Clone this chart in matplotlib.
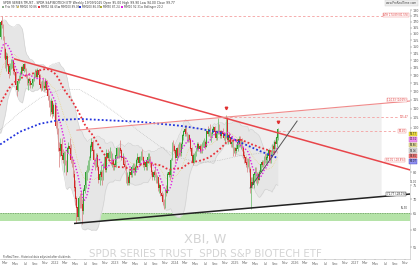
import matplotlib
matplotlib.use("Agg")
import matplotlib.pyplot as plt
import matplotlib.dates as mdates
import numpy as np
import pandas as pd

# ---------------- data (weekly, XBI) ----------------
warmup_closes = [98, 97, 96, 88,
                 88, 78, 72, 78, 80,
                 88, 97, 100, 98,
                 100, 103, 103, 105,
                 106, 108, 110, 110, 112,
                 115, 117, 116, 113,
                 113, 113, 115, 117, 112,
                 110, 111, 106, 112,
                 114, 118, 113, 110,
                 118, 122, 126, 128, 130,
                 132, 135, 140, 141,
                 145, 150, 153, 152]

opens = [
    157, 170, 166, 156,
    148, 141, 143, 137, 132,
    137, 138, 139, 134,
    132, 123, 121, 126, 129,
    131, 135, 133, 137,
    134, 130, 125, 127,
    126, 124, 125, 127, 131,
    132, 129, 133, 130,
    124, 122, 126, 123,
    122, 126, 121, 117, 112,
    108, 114, 107, 112,
    # 2022
    112, 101, 99, 90, 89,
    92, 87, 85, 88,
    84, 80, 90, 91,
    90, 85, 83, 79,
    74, 70, 67, 64, 70,
    69, 68, 66, 73,
    75, 80, 81, 83,
    86, 91, 93, 89, 85,
    83, 87, 82, 77,
    79, 80, 78, 83, 86,
    81, 88, 86, 88,
    88, 84, 85, 83,
    # 2023
    83, 87, 90, 87, 90,
    89, 86, 86, 83,
    82, 77, 78, 76,
    80, 79, 82, 83,
    80, 82, 85, 86, 84,
    86, 88, 86, 83,
    84, 82, 85, 86, 87,
    83, 80, 78, 80,
    79, 77, 78, 74,
    75, 72, 71, 69, 67,
    73, 72, 79, 80,
    79, 85, 92, 91,
    # 2024
    89, 86, 90, 87, 92,
    88, 92, 96, 98,
    99, 97, 94, 96,
    94, 90, 87, 84, 87,
    88, 90, 92, 90,
    91, 89, 92, 93,
    93, 91, 98, 97, 99,
    96, 97, 99, 100,
    98, 95, 98, 101, 98,
    96, 98, 97, 95,
    96, 104, 94, 96,
    95, 92, 93, 89, 90,
    # 2025
    89, 90, 93, 94,
    92, 93, 90, 87,
    86, 84, 83, 85, 81,
    74, 76, 75, 79,
    80, 77, 79, 77,
    80, 83, 84, 83, 86,
    85, 86, 87, 89,
    85, 88, 91, 90,
    93, 92, 95]

highs = [
    171, 174.8, 168, 158,
    150, 146, 145, 138, 138,
    141, 141, 140, 137,
    133, 125, 127, 130, 133,
    136, 137, 138, 138,
    135, 131, 128, 129,
    128, 127, 128, 132, 134,
    134, 135, 134, 131,
    126, 127, 128, 126,
    128, 127, 122, 118, 115,
    116, 115, 113, 114,
    # 2022
    112, 104, 100, 93, 95,
    95, 90, 89, 89,
    85, 91, 93, 95,
    92, 87, 85, 81,
    77, 71, 69, 71, 72,
    73, 70, 74, 77,
    81, 83, 85, 87,
    92, 95, 94, 90, 86,
    88, 88, 83, 81,
    83, 81, 84, 87, 87,
    90, 90, 89, 91,
    89, 88, 86, 84,
    # 2023
    88, 91, 91, 91, 94,
    90, 88, 87, 85,
    83, 80, 79, 81,
    81, 83, 84, 84,
    83, 86, 88, 87, 87,
    89, 90, 87, 85,
    85, 86, 88, 88, 87,
    84, 81, 81, 82,
    80, 79, 78, 76,
    75, 73, 72, 70, 74,
    75, 80, 81, 81,
    86, 93, 94, 92,
    # 2024
    90, 91, 92, 93, 93,
    93, 97, 99, 101,
    101.5, 98, 97, 97,
    95, 91, 88, 88, 89,
    91, 93, 93, 92,
    92, 93, 94, 95,
    94, 99, 101, 100, 102,
    98, 100, 101, 101,
    99, 99, 105, 102, 99,
    99, 100, 98, 97,
    106.5, 105, 97, 98,
    96, 94, 94, 91, 91,
    # 2025
    92, 94, 96, 96,
    94, 95, 91, 89,
    87, 86, 86, 86, 82,
    78, 78, 80, 82,
    82, 80, 80, 81,
    84, 85, 85, 87, 88,
    88, 88, 90, 89,
    89, 92, 92, 94,
    94, 96, 99.9]

lows = [
    156, 165, 155, 142,
    135, 133, 136, 128, 130,
    134, 135, 131, 130,
    122, 117, 120, 125, 127,
    130, 131, 132, 133,
    128, 124, 121, 124,
    122, 122, 123, 126, 129,
    128, 128, 127, 122,
    120, 121, 122, 120,
    121, 120, 115, 111, 106,
    107, 105, 106, 109,
    # 2022
    100, 97, 89, 82, 87,
    86, 84, 80, 83,
    79, 80, 88, 89,
    84, 82, 78, 73,
    68, 62, 63, 63, 67,
    67, 61.7, 65, 72,
    74, 77, 80, 81,
    85, 89, 88, 83, 81,
    82, 81, 76, 75,
    77, 75, 77, 82, 80,
    80, 85, 85, 86,
    83, 82, 81, 81,
    # 2023
    82, 86, 86, 86, 88,
    85, 84, 82, 81,
    76, 75, 75, 75,
    78, 78, 81, 79,
    79, 81, 84, 83, 83,
    85, 85, 82, 81,
    81, 81, 84, 84, 82,
    79, 77, 77, 78,
    76, 76, 73, 72,
    71, 70, 68, 66.7, 67,
    71, 72, 78, 77,
    78, 85, 89, 88,
    # 2024
    84, 85, 86, 87, 87,
    87, 91, 94, 96,
    96, 93, 93, 93,
    89, 86, 83, 84, 85,
    87, 89, 89, 88,
    88, 88, 91, 91,
    90, 91, 96, 96, 95,
    93, 96, 98, 97,
    94, 94, 97, 97, 95,
    95, 96, 94, 93,
    95, 93, 92, 94,
    91, 91, 87, 88, 87,
    # 2025
    88, 89, 91, 91,
    90, 89, 86, 84,
    82, 80, 82, 80, 72,
    66.7, 74, 74, 77,
    76, 75, 76, 77,
    80, 82, 82, 83, 84,
    84, 84, 86, 84,
    84, 87, 88, 89,
    90, 91, 94]

closes = [
    169, 167, 157, 147,
    140, 143, 137, 131, 136,
    138, 139, 133, 132,
    124, 121, 126, 129, 131,
    135, 133, 137, 134,
    130, 125, 127, 126,
    124, 125, 127, 131, 132,
    129, 133, 130, 124,
    122, 126, 123, 122,
    126, 121, 117, 112, 108,
    114, 107, 112, 112,
    # 2022
    101, 99, 90, 89, 92,
    87, 85, 88, 84,
    80, 90, 91, 90,
    85, 83, 79, 74,
    70, 67, 64, 70, 69,
    68, 66, 73, 75,
    80, 81, 83, 86,
    91, 93, 89, 85, 83,
    87, 82, 77, 79,
    80, 78, 83, 86, 81,
    88, 86, 88, 88,
    84, 85, 83, 83,
    # 2023
    87, 90, 87, 90, 89,
    86, 86, 83, 82,
    77, 78, 76, 80,
    79, 82, 83, 80,
    82, 85, 86, 84, 86,
    88, 86, 83, 84,
    82, 85, 86, 87, 83,
    80, 78, 80, 79,
    77, 78, 74, 75,
    72, 71, 69, 67, 73,
    72, 79, 80, 79,
    85, 92, 91, 89,
    # 2024
    86, 90, 87, 92, 88,
    92, 96, 98, 99,
    97, 94, 96, 94,
    90, 87, 84, 87, 88,
    90, 92, 90, 91,
    89, 92, 93, 93,
    91, 98, 97, 99, 96,
    97, 99, 100, 98,
    95, 98, 101, 98, 96,
    98, 97, 95, 96,
    104, 94, 96, 95,
    92, 93, 89, 90, 89,
    # 2025
    90, 93, 94, 92,
    93, 90, 87, 86,
    84, 83, 85, 81, 74,
    76, 75, 79, 80,
    77, 79, 77, 80,
    83, 84, 83, 86, 85,
    86, 87, 89, 85,
    88, 91, 90, 93,
    92, 95, 99]

# long moving averages (100 w grey, 200 w blue)
ma100_dates = ["2021-02-01", "2021-06-01", "2021-10-01", "2022-02-01", "2022-06-01",
               "2022-10-01", "2023-02-01", "2023-06-01", "2023-10-01", "2024-02-01",
               "2024-06-01", "2024-10-01", "2025-02-01", "2025-06-01", "2025-09-15"]
ma100_vals = [99, 108, 116, 121, 121, 114, 106, 98, 91, 86, 84, 85, 87, 88, 89]
ma200_dates = ["2021-02-01", "2021-06-01", "2021-10-01", "2022-02-01", "2022-06-01",
               "2022-10-01", "2023-02-01", "2023-06-01", "2023-10-01", "2024-02-01",
               "2024-06-01", "2024-10-01", "2025-02-01", "2025-06-01", "2025-09-15"]
ma200_vals = [92, 98, 102, 104, 104.5, 104, 103.5, 103, 102, 101, 99.5, 97.5, 93, 89, 86]

# drawn objects (dates, prices)
red_trend_dates = ["2021-04-30", "2027-12-01"]
red_trend_prices = [141, 81]
pink_trend_dates = ["2022-05-14", "2027-12-01"]
pink_trend_prices = [98.8, 114.3]
black_trend_dates = ["2022-05-01", "2027-12-01"]
black_trend_prices = [62.0, 71.8]
grey_trend_dates = ["2025-04-02", "2026-01-13"]
grey_trend_prices = [74.0, 103.4]
zone_dates = ["2022-05-14", "2027-06-08"]
ath_price = 174.8
peak_price = 105.5
last_high_price = 98.4
green_zone = (62.7, 65.4)

yticks = list(range(55, 185, 5))
hidden_tick_labels = [85, 90, 95]   # covered by the value boxes

# ---------------- figure ----------------
W, H = 420, 265
fig = plt.figure(figsize=(W / 100, H / 100), dpi=100)
fig.patch.set_facecolor("white")
ax = fig.add_axes([0, 6 / H, 410 / W, 249 / H])
ax.set_facecolor("white")

n_warm = len(warmup_closes)
all_dates = pd.date_range("2020-02-03", periods=n_warm + len(closes), freq="W-MON")
vis_dates = all_dates[n_warm:]
xall = mdates.date2num(all_dates) + 2.5
xv = mdates.date2num(vis_dates) + 2.5

o = np.array(opens, float); h = np.array(highs, float)
l = np.array(lows, float); c = np.array(closes, float)
allc = pd.Series(np.concatenate([warmup_closes, closes]).astype(float))
ma10 = allc.rolling(10).mean().values
ma20 = allc.rolling(20).mean().values
sd20 = allc.rolling(20).std(ddof=0).values
ma52 = allc.rolling(52).mean().values
up20 = ma20 + 2 * sd20
lo20 = ma20 - 2 * sd20

d2n = lambda ds: mdates.date2num(pd.to_datetime(ds))
x0, x1 = d2n(["2021-01-31", "2027-12-01"])

# green support zone
ax.axhspan(green_zone[0], green_zone[1], color="#b5e3a8", zorder=0.5, lw=0)
ax.axhline(green_zone[1], color="#6a9a60", lw=0.5, ls=(0, (2, 1.5)), zorder=0.6)

# grey channel zone between pink and black lines
zx = d2n(zone_dates)
px = d2n(pink_trend_dates); bx = d2n(black_trend_dates)
def logline(xs, ps, xq):
    return np.exp(np.interp(xq, xs, np.log(ps), left=np.nan, right=np.nan))
zz = np.linspace(zx[0], zx[1], 50)
ax.fill_between(zz, logline(bx, black_trend_prices, zz), logline(px, pink_trend_prices, zz),
                color="#efefef", lw=0, zorder=0.4)

# Bollinger envelope
ax.fill_between(xall, lo20, up20, color="#e6e6e6", lw=0, zorder=0.8)
ax.plot(xall, up20, color="#cfcfcf", lw=0.4, zorder=0.9)
ax.plot(xall, lo20, color="#cfcfcf", lw=0.4, zorder=0.9)

# long MAs
ax.plot(d2n(ma100_dates), ma100_vals, color="#b8b8b8", lw=0.5, ls=(0, (1, 1.5)), zorder=1)
ax.plot(d2n(ma200_dates), ma200_vals, color="#2233dd", lw=1.3, ls=(0, (1, 1.2)), zorder=2.5)
ax.plot(xall, ma52, color="#e8303a", lw=1.3, ls=(0, (1, 1.2)), zorder=2.5)
ax.plot(xall, ma20, color="#e6d27a", lw=0.5, ls=(0, (1, 1.5)), zorder=1.1)

# candles
upm = c >= o
col = np.where(upm, "#2f9e2f", "#d42a2a")
ax.vlines(xv, l, h, colors=np.where(upm, "#62b862", "#d77a7a"), lw=0.5, zorder=2)
ax.bar(xv, np.abs(c - o) + 0.3, bottom=np.minimum(o, c), width=4.2, color=col, lw=0, zorder=2.1)

ax.plot(xall, ma10, color="#e020e0", lw=1.0, ls=(0, (1, 1.3)), zorder=2.6)

# trend lines
ax.plot(d2n(red_trend_dates), red_trend_prices, color="#e8454a", lw=1.1, zorder=3)
ax.plot(px, pink_trend_prices, color="#f08a8a", lw=0.8, zorder=3)
ax.plot(bx, black_trend_prices, color="#222222", lw=1.1, zorder=3)
ax.plot(d2n(grey_trend_dates), grey_trend_prices, color="#555555", lw=0.7, zorder=3)

# dashed horizontal levels
ax.hlines(ath_price, x0, d2n(["2027-07-02"])[0], color="#f4a0a0", lw=0.6, ls=(0, (3, 2.5)), zorder=1)
ax.hlines(peak_price, d2n(["2024-11-01"])[0], d2n(["2027-10-01"])[0], color="#f4a0a0", lw=0.6, ls=(0, (3, 2.5)), zorder=1)
ax.hlines(last_high_price, d2n(["2025-09-19"])[0], d2n(["2027-09-01"])[0], color="#f4a0a0", lw=0.6, ls=(0, (3, 2.5)), zorder=1)
ax.plot(d2n(["2024-11-06"]), [110.5], marker="v", ms=1.8, color="#e03030", zorder=4, lw=0)
ax.plot(d2n(["2025-09-17"]), [103.0], marker="v", ms=1.8, color="#e03030", zorder=4, lw=0)

# watermark
ax.text(0.5, 0.077, "XBI, W", transform=ax.transAxes, ha="center", va="center",
        fontsize=9.3, color="#d4d4d4", zorder=0.3)
ax.text(0.5, 0.022, "SPDR SERIES TRUST  SPDR S&P BIOTECH ETF", transform=ax.transAxes,
        ha="center", va="center", fontsize=7.4, color="#d4d4d4", zorder=0.3)

# axes formatting
ax.set_yscale("log")
ax.set_ylim(51.9, 180.1)
ax.set_xlim(x0, x1)
ax.yaxis.tick_right()
ax.set_yticks(yticks)
ax.set_yticklabels(["" if v in hidden_tick_labels else f"{v}" for v in yticks])
ax.yaxis.set_minor_locator(matplotlib.ticker.NullLocator())
ax.tick_params(axis="y", labelsize=2.4, colors="#555555", length=1.2, width=0.3, pad=0.8)
xt = pd.date_range("2021-03-01", "2027-11-01", freq="2MS")
ax.set_xticks(mdates.date2num(xt))
ax.set_xticklabels([str(d.year) if d.month == 1 else d.strftime("%b") for d in xt])
ax.tick_params(axis="x", labelsize=2.4, colors="#666666", length=1.0, width=0.3, pad=0.8)
for s in ["top", "left"]:
    ax.spines[s].set_visible(False)
for s in ["right", "bottom"]:
    ax.spines[s].set_color("#bbbbbb"); ax.spines[s].set_linewidth(0.4)

# header texts
fig.text(3 / W, 1 - 3 / H, "SPDR SERIES TRUST - SPDR S&P BIOTECH ETF Weekly 19/09/2025 Open 95.00 High 99.90 Low 94.00 Close 99.77",
         fontsize=2.2, color="#333333", va="center")
leg = [("Prix 99.77", "#8aa88a"), ("MM20 90.86", "#e6d27a"), ("MM52 84.65", "#e8303a"),
       ("MM100 89.06", "#999999"), ("MM200 86.07", "#2233dd"), ("MM50 87.24", "#aaaa33"),
       ("MM10 92.31", "#e020e0"), ("Bollinger 20 2", "#bbbbbb")]
lx = [2, 17, 38, 58, 79, 100, 121, 141]
for (t, cc), xx in zip(leg, lx):
    fig.patches.append(plt.Rectangle((xx / W, 1 - 8 / H), 2 / W, 2.5 / H, transform=fig.transFigure,
                                     color=cc, lw=0))
    fig.text((xx + 3) / W, 1 - 6.8 / H, t, fontsize=2.0, color="#444444", va="center")
fig.text(417 / W, 1 - 3 / H, "www.ProRealTime.com", fontsize=2.0, color="#444444", ha="right", va="center",
         bbox=dict(boxstyle="square,pad=0.2", fc="#eeeeee", ec="#cccccc", lw=0.3))
fig.text(3 / W, 1 - 257 / H, "ProRealTime - Historical data adjusted after dividends", fontsize=1.8,
         color="#444444", va="center")

# right value boxes
def vbox(y, txt, fc, ec, tc="#222222", x=413, fs=1.8):
    fig.text(x / W, 1 - y / H, txt, fontsize=fs, color=tc, ha="center", va="center",
             bbox=dict(boxstyle="square,pad=0.12", fc=fc, ec=ec, lw=0.3))
vbox(15, "ATH 174.89 (81.5%)", "#ffffff", "#f08080", "#e04040", x=396)
vbox(100, "114.33 (14.6%)", "#ffffff", "#f08080", "#e04040", x=397)
vbox(117, "105.47", "#ffffff", "#ffffff", "#e04040", x=404)
vbox(131, "98.40", "#ffffff", "#f08080", "#e04040", x=402)
vbox(134, "99.77", "#f0e040", "#c0b020")
vbox(139.5, "92.31", "#f090f0", "#c060c0")
vbox(145, "90.86", "#e8e0a0", "#c0b060")
vbox(150.5, "89.06", "#dddddd", "#aaaaaa")
vbox(156, "84.65", "#f08080", "#d04040")
vbox(161.5, "86.07", "#9090f0", "#4040c0")
vbox(160, "81.01 (-18.8%)", "#ffffff", "#f08080", "#e04040", x=395)
vbox(182, "75.00", "#ffffff", "#ffffff", "#333333")
vbox(194, "71.77 (-28.1%)", "#ffffff", "#333333", "#222222", x=396)
vbox(208, "65.90", "#ffffff", "#ffffff", "#333333", x=404)

fig.savefig("out.png", dpi=100, facecolor="white")
